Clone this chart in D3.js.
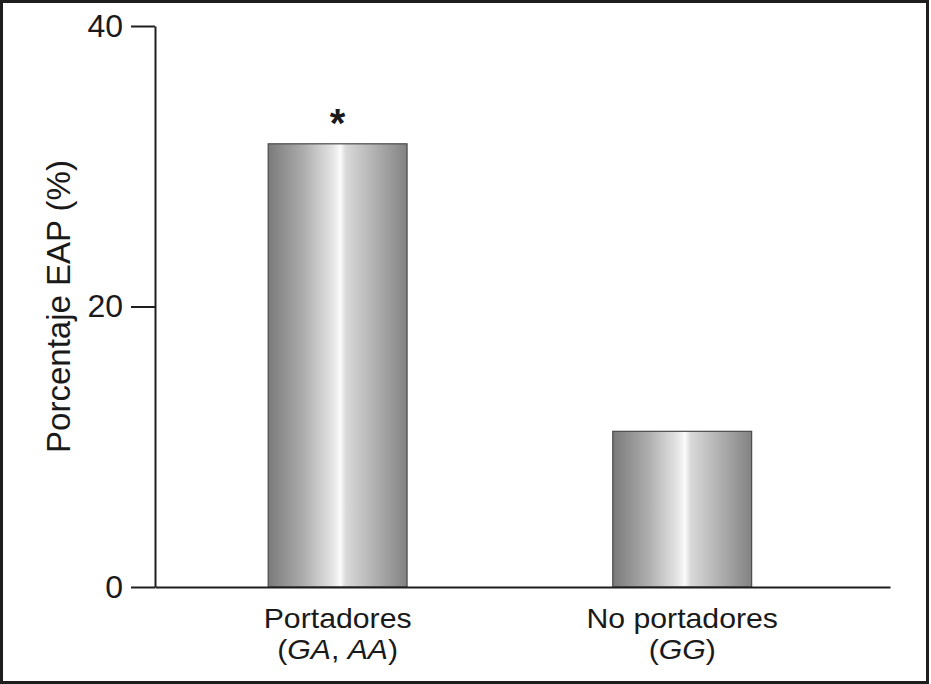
<!DOCTYPE html>
<html lang="es">
  <head>
    <meta charset="UTF-8" />
    <script src="https://d3js.org/d3.v7.min.js"></script>
    <title>Porcentaje EAP</title>
    <style>
      body { margin: 0; background: #fff; }
      text { font-family: "Liberation Sans", Arial, Helvetica, sans-serif; fill: #1a1a1a; }
    </style>
  </head>
  <body>
    <script>
      // data
      const categories = ["Portadores", "No portadores"];
      const subLabels = [["GA", ", ", "AA"], ["GG"]];
      const values = [31.6, 11.1];
      const marks = ["*", ""];
      const yTicks = [0, 20, 40];

      const width = 931, height = 684;
      const plotLeft = 155, plotRight = 890, plotTop = 26, plotBottom = 587;

      let svg = d3.select("body").append("svg")
        .attr("width", width)
        .attr("height", height);

      // outer frame
      svg.append("rect")
        .attr("x", 1.5).attr("y", 1.5)
        .attr("width", 926).attr("height", 681)
        .attr("fill", "none")
        .attr("stroke", "#1e1e1e")
        .attr("stroke-width", 3);

      // cylinder-like shading
      let grad = svg.append("defs").append("linearGradient")
        .attr("id", "barGrad")
        .attr("x1", "0%").attr("x2", "100%")
        .attr("y1", "0%").attr("y2", "0%");
      [
        [0, "#7a7a7a"], [0.25, "#acacac"], [0.47, "#e6e6e6"],
        [0.52, "#fbfbfb"], [0.56, "#d9d9d9"], [0.8, "#aaaaaa"], [1, "#828282"]
      ].forEach(s => grad.append("stop").attr("offset", s[0]).attr("stop-color", s[1]));

      let x = d3.scaleBand()
        .domain(categories)
        .range([plotLeft, plotRight])
        .paddingInner(0.597)
        .paddingOuter(0.365)
        .align(0.45);

      let y = d3.scaleLinear().domain([0, 40]).range([plotBottom, plotTop]);

      // bars
      svg.append("g").selectAll("rect")
        .data(categories)
        .join("rect")
        .attr("x", d => x(d))
        .attr("y", (d, i) => y(values[i]))
        .attr("width", x.bandwidth())
        .attr("height", (d, i) => y(0) - y(values[i]))
        .attr("fill", "url(#barGrad)")
        .attr("stroke", "#4a4a4a")
        .attr("stroke-width", 1.2);

      // significance mark
      svg.append("g").selectAll("text")
        .data(categories)
        .join("text")
        .attr("x", d => x(d) + x.bandwidth() / 2)
        .attr("y", (d, i) => y(values[i]) - 7)
        .attr("text-anchor", "middle")
        .style("font-size", "40px")
        .style("font-weight", "bold")
        .text((d, i) => marks[i]);

      // y axis
      let yAxis = svg.append("g")
        .attr("transform", `translate(${plotLeft},0)`)
        .call(d3.axisLeft(y).tickValues(yTicks).tickSize(24).tickSizeOuter(0).tickPadding(8));
      yAxis.select(".domain").attr("stroke", "#1e1e1e").attr("stroke-width", 2);
      yAxis.selectAll(".tick line").attr("stroke", "#1e1e1e").attr("stroke-width", 2);
      yAxis.selectAll(".tick text")
        .attr("fill", "#1a1a1a")
        .style("font-size", "32px")
        .style("font-family", "'Liberation Sans', Arial, sans-serif");

      // x axis baseline, no ticks
      let xAxis = svg.append("g")
        .attr("transform", `translate(0,${plotBottom})`)
        .call(d3.axisBottom(x).tickSize(0).tickSizeOuter(0).tickFormat(""));
      xAxis.select(".domain").attr("stroke", "#1e1e1e").attr("stroke-width", 2);

      // category labels, two lines each
      let labelGroups = svg.append("g").selectAll("g")
        .data(categories)
        .join("g")
        .attr("transform", d => `translate(${x(d) + x.bandwidth() / 2},0) scale(1.08,1)`);
      labelGroups.append("text")
        .attr("y", 628)
        .attr("text-anchor", "middle")
        .style("font-size", "28px")
        .text(d => d);
      labelGroups.append("text")
        .attr("y", 659)
        .attr("text-anchor", "middle")
        .style("font-size", "28px")
        .each(function (d, i) {
          let t = d3.select(this);
          t.append("tspan").text("(");
          subLabels[i].forEach((s, j) => {
            t.append("tspan").style("font-style", j % 2 === 0 ? "italic" : "normal").text(s);
          });
          t.append("tspan").text(")");
        });

      // y axis title
      svg.append("text")
        .attr("transform", `translate(70,${(plotTop + plotBottom) / 2}) rotate(-90)`)
        .attr("text-anchor", "middle")
        .style("font-size", "33px")
        .text("Porcentaje EAP (%)");
    </script>
  </body>
</html>
